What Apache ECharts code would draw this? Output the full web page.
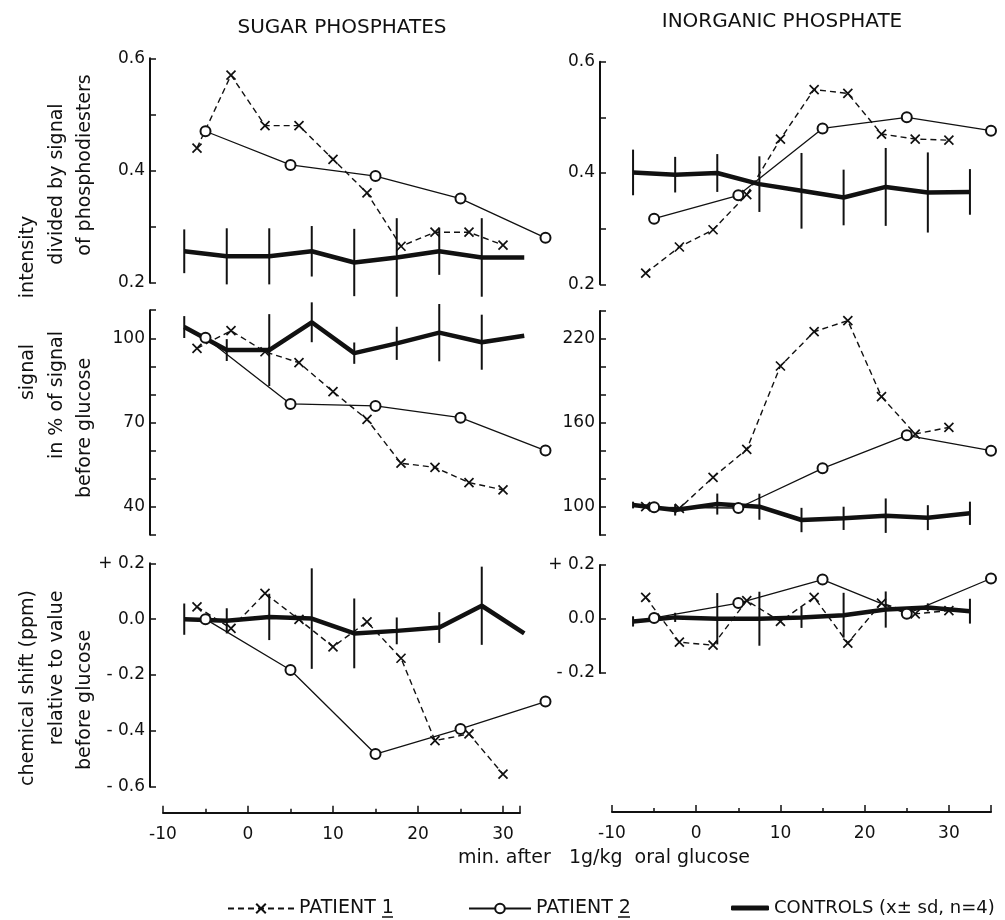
<!DOCTYPE html>
<html><head><meta charset="utf-8">
<script src="https://cdn.jsdelivr.net/npm/echarts@6/dist/echarts.min.js"></script>
<style>html,body{margin:0;padding:0;background:#fff}#c{width:1005px;height:920px}</style>
</head><body><div id="c"></div>
<script>
// ---- data (minutes after 1 g/kg oral glucose) ----
const p1Times = [-6, -2, 2, 6, 10, 14, 18, 22, 26, 30];
const p2Times = [-5, 5, 15, 25, 35];
const ctrlTimes = [-7.5, -2.5, 2.5, 7.5, 12.5, 17.5, 22.5, 27.5, 32.5];
const xTickLabels = ['-10', '0', '10', '20', '30'];

// sugar phosphates: intensity / phosphodiesters
const sugarRatioP1 = [0.44, 0.57, 0.48, 0.48, 0.42, 0.36, 0.265, 0.29, 0.29, 0.267];
const sugarRatioP2 = [0.47, 0.41, 0.39, 0.35, 0.28];
const sugarRatioCtrl = [0.256, 0.247, 0.247, 0.256, 0.236, 0.245, 0.256, 0.245, 0.245];
const sugarRatioSd = [0.039, 0.05, 0.05, 0.045, 0.06, 0.07, 0.042, 0.07, 0];
// inorganic phosphate: intensity / phosphodiesters
const piRatioP1 = [0.22, 0.267, 0.298, 0.361, 0.461, 0.55, 0.543, 0.47, 0.461, 0.459];
const piRatioP2 = [0.318, 0.36, 0.48, 0.50, 0.476];
const piRatioCtrl = [0.401, 0.397, 0.40, 0.38, 0.368, 0.356, 0.375, 0.365, 0.366];
const piRatioSd = [0.041, 0.032, 0.034, 0.05, 0.068, 0.05, 0.07, 0.072, 0.041];
// sugar phosphates: signal in % of signal before glucose
const sugarSignalP1 = [96.4, 102.7, 95.2, 91.3, 81.0, 71.1, 55.5, 54.0, 48.6, 46.0];
const sugarSignalP2 = [100.2, 76.6, 75.9, 71.7, 60];
const sugarSignalCtrl = [104, 95.8, 95.8, 105.7, 94.7, 98.2, 102.0, 98.6, 100.9];
const sugarSignalSd = [3.9, 3.9, 12.8, 7.1, 3.8, 5.9, 10.2, 9.8, 0];
// inorganic phosphate: signal in % of signal before glucose
const piSignalP1 = [100.2, 99.0, 121.2, 141.2, 200.7, 225.2, 233.1, 178.8, 152.1, 156.9];
const piSignalP2 = [99.8, 99.3, 127.6, 151.2, 140.2];
const piSignalCtrl = [101.4, 97.9, 102.1, 100.2, 90.7, 91.9, 93.8, 92.4, 95.5];
const piSignalSd = [2.4, 4, 7.5, 9.3, 8.7, 8.3, 12.3, 8.9, 8.3];
// sugar phosphates: chemical shift (ppm)
const sugarShiftP1 = [0.044, -0.033, 0.092, -0.001, -0.099, -0.010, -0.140, -0.435, -0.411, -0.555];
const sugarShiftP2 = [0.0, -0.182, -0.483, -0.393, -0.295];
const sugarShiftCtrl = [0.0, -0.006, 0.008, 0.002, -0.051, -0.042, -0.030, 0.048, -0.051];
const sugarShiftSd = [0.056, 0.045, 0.083, 0.18, 0.125, 0.048, 0.055, 0.14, 0];
// inorganic phosphate: chemical shift (ppm)
const piShiftP1 = [0.080, -0.086, -0.097, 0.068, -0.009, 0.080, -0.089, 0.059, 0.019, 0.031];
const piShiftP2 = [0.004, 0.059, 0.146, 0.019, 0.150];
const piShiftCtrl = [-0.009, 0.006, 0.001, 0.001, 0.006, 0.014, 0.035, 0.043, 0.029];
const piShiftSd = [0.019, 0.017, 0.095, 0.1, 0.039, 0.083, 0.067, 0.015, 0.046];

// ---- presentation ----
const FONT = "'DejaVu Sans', sans-serif";
const INK = '#111';
const near = (a, b) => Math.abs(a - b) < 1e-6;
const ratioFmt = v => { const r = Math.round(v * 10); return near(v * 10, r) && r % 2 === 0 ? (r / 10).toFixed(1) : ''; };
const sugarSigFmt = v => near(v, Math.round(v)) && (Math.round(v) - 40) % 30 === 0 ? String(Math.round(v)) : '';
const piSigFmt = v => near(v, Math.round(v)) && (Math.round(v) - 100) % 60 === 0 ? String(Math.round(v)) : '';
const shiftFmt = v => { const r = Math.round(v * 10); if (!near(v * 10, r)) return ''; if (r === 0) return '0.0'; return (r > 0 ? '+ ' : '- ') + (Math.abs(r) / 10).toFixed(1); };
const xFmt = v => { const i = xTickLabels.indexOf(String(v)); return i >= 0 ? xTickLabels[i] : ''; };

// data grids: both columns span -10..35 min
const L = { left: 163, width: 382.5, yoff: 13, axisMax: 32, axisWidth: 357 };
const R = { left: 612, width: 379, yoff: 12, axisMax: 35, axisWidth: 379 };
const panels = [
  { col: L, top: 58.3, height: 224.4, min: 0.2, max: 0.6, interval: 0.1, fmt: ratioFmt, p1: sugarRatioP1, p2: sugarRatioP2, c: sugarRatioCtrl, sd: sugarRatioSd },
  { col: L, top: 310.2, height: 224.6, min: 30, max: 110, interval: 10, fmt: sugarSigFmt, p1: sugarSignalP1, p2: sugarSignalP2, c: sugarSignalCtrl, sd: sugarSignalSd },
  { col: L, top: 563.3, height: 223.4, min: -0.6, max: 0.2, interval: 0.2, fmt: shiftFmt, p1: sugarShiftP1, p2: sugarShiftP2, c: sugarShiftCtrl, sd: sugarShiftSd, xoff: 26 },
  { col: R, top: 61.7, height: 222.6, min: 0.2, max: 0.6, interval: 0.1, fmt: ratioFmt, p1: piRatioP1, p2: piRatioP2, c: piRatioCtrl, sd: piRatioSd },
  { col: R, top: 311, height: 224, min: 80, max: 240, interval: 20, fmt: piSigFmt, p1: piSignalP1, p2: piSignalP2, c: piSignalCtrl, sd: piSignalSd },
  { col: R, top: 565, height: 108, min: -0.2, max: 0.2, interval: 0.2, fmt: shiftFmt, p1: piShiftP1, p2: piShiftP2, c: piShiftCtrl, sd: piShiftSd, xoff: 139 }
];

const CTRL = 'CONTROLS (x\u00b1 sd, n=4)';
const zip = (xs, ys) => xs.map((x, i) => [x, ys[i]]);
const grid = [], xAxis = [], yAxis = [], series = [];
panels.forEach((p, i) => {
  grid.push({ left: p.col.left, width: p.col.width, top: p.top, height: p.height });
  xAxis.push({ type: 'value', gridIndex: i, min: -10, max: 35, show: false });
  yAxis.push({
    type: 'value', gridIndex: i, min: p.min, max: p.max, interval: p.interval, offset: p.col.yoff,
    position: 'left',
    axisLine: { show: true, onZero: false, lineStyle: { color: INK, width: 2 } },
    axisTick: { show: true, inside: true, length: 6, lineStyle: { color: INK, width: 1.5 } },
    axisLabel: { formatter: p.fmt, fontFamily: FONT, fontSize: 17, color: INK, margin: 5 },
    splitLine: { show: false }
  });
  const common = { xAxisIndex: i, yAxisIndex: i, clip: false, animation: false, emphasis: { disabled: true } };
  series.push(Object.assign({
    type: 'line', name: CTRL, data: zip(ctrlTimes, p.c), symbol: 'none', z: 2,
    lineStyle: { color: INK, width: 4.5 }, itemStyle: { color: INK }
  }, common));
  series.push(Object.assign({
    type: 'custom', name: 'sd', data: ctrlTimes.map((t, k) => [t, p.c[k], p.sd[k]]), z: 2,
    encode: { x: 0, y: 1 },
    renderItem: (params, api) => {
      const s = api.value(2);
      if (!s) return null;
      const a = api.coord([api.value(0), api.value(1) - s]);
      const b = api.coord([api.value(0), api.value(1) + s]);
      return { type: 'line', shape: { x1: a[0], y1: a[1], x2: b[0], y2: b[1] }, style: { stroke: INK, lineWidth: 2 } };
    }
  }, common));
  series.push(Object.assign({
    type: 'line', name: 'PATIENT 1', data: zip(p1Times, p.p1), z: 4,
    symbol: 'path://M0,0L10,10M10,0L0,10', symbolSize: 9,
    lineStyle: { color: INK, width: 1.4, type: [6, 4] },
    itemStyle: { color: 'none', borderColor: INK, borderWidth: 1.7 }
  }, common));
  series.push(Object.assign({
    type: 'line', name: 'PATIENT 2', data: zip(p2Times, p.p2), z: 5,
    symbol: 'emptyCircle', symbolSize: 10,
    lineStyle: { color: INK, width: 1.3 },
    itemStyle: { color: INK, borderWidth: 1.5 }
  }, common));
});

// time axes drawn under the bottom panels (their own grids so the left one can stop at 32 min)
[2, 5].forEach(pi => {
  const p = panels[pi];
  const g = grid.length;
  grid.push({ left: p.col.left, width: p.col.axisWidth, top: p.top, height: p.height });
  yAxis.push({ type: 'value', gridIndex: g, show: false });
  xAxis.push({
    type: 'value', gridIndex: g, min: -10, max: p.col.axisMax, interval: 10, position: 'bottom', offset: p.xoff,
    axisLine: { show: true, onZero: false, lineStyle: { color: INK, width: 2 } },
    axisTick: { show: true, inside: true, length: 7, lineStyle: { color: INK, width: 1.5 } },
    axisLabel: { formatter: xFmt, fontFamily: FONT, fontSize: 17, color: INK, margin: 13 },
    splitLine: { show: false }
  });
  xAxis.push({
    type: 'value', gridIndex: g, min: -10, max: p.col.axisMax, interval: 5, position: 'bottom', offset: p.xoff,
    axisLine: { show: false, onZero: false }, axisLabel: { show: false },
    axisTick: { show: true, inside: true, length: 4, lineStyle: { color: INK, width: 1.5 } },
    splitLine: { show: false }
  });
});

const txt = (text, x, y, size, rot) => ({
  type: 'text', x, y, rotation: rot || 0,
  style: { text, fontFamily: FONT, fontSize: size, fill: INK, textAlign: 'center', textVerticalAlign: 'middle' }
});
const uline = (x1, x2, y) => ({ type: 'line', shape: { x1, y1: y, x2, y2: y }, style: { stroke: INK, lineWidth: 1.5 } });
const R90 = Math.PI / 2;
const graphic = [
  txt('SUGAR PHOSPHATES', 342, 28, 20),
  txt('INORGANIC PHOSPHATE', 782, 22, 20),
  txt('intensity', 28, 257, 19, R90),
  txt('signal', 28, 372, 19, R90),
  txt('divided by signal', 57, 184, 19, R90),
  txt('of phosphodiesters', 85, 165, 19, R90),
  txt('in % of signal', 57, 395, 19, R90),
  txt('before glucose', 85, 428, 19, R90),
  txt('chemical shift (ppm)', 28, 688, 19, R90),
  txt('relative to value', 57, 668, 19, R90),
  txt('before glucose', 85, 700, 19, R90),
  txt('min. after   1g/kg  oral glucose', 604, 858, 19),
  uline(382, 393, 917),
  uline(618, 630, 917)
];

const legendText = { fontFamily: FONT, fontSize: 19, color: INK };
const option = {
  backgroundColor: '#fff',
  animation: false,
  grid, xAxis, yAxis, series, graphic,
  legend: [
    { data: ['PATIENT 1'], left: 222, top: 894, itemWidth: 66, itemHeight: 12, selectedMode: false, textStyle: legendText },
    { data: ['PATIENT 2'], left: 463, top: 894, itemWidth: 62, itemHeight: 12, selectedMode: false, textStyle: legendText },
    { data: [{ name: CTRL, icon: 'roundRect' }], left: 726, top: 894, itemWidth: 38, itemHeight: 5, selectedMode: false,
      textStyle: Object.assign({}, legendText, { fontSize: 18 }) }
  ]
};
const chart = echarts.init(document.getElementById('c'), null, { renderer: 'canvas' });
chart.setOption(option);
</script></body></html>
